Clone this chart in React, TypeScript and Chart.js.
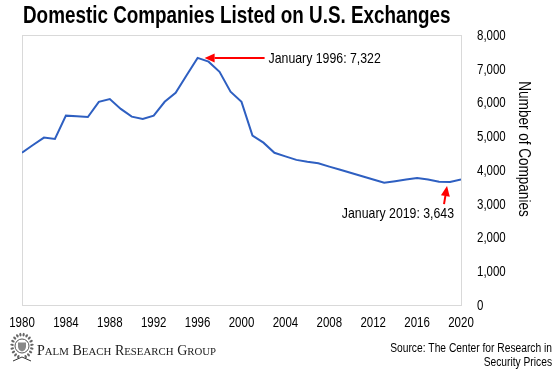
import { useEffect, useRef } from "react";
import { Chart, registerables } from "chart.js";

Chart.register(...registerables);

const TITLE = "Domestic Companies Listed on U.S. Exchanges";
const Y_TITLE = "Number of Companies";
const BRAND = "Palm Beach Research Group";
const SOURCE_LINES = ["Source: The Center for Research in", "Security Prices"];

const years = [
  1980, 1981, 1982, 1983, 1984, 1985, 1986, 1987, 1988, 1989,
  1990, 1991, 1992, 1993, 1994, 1995, 1996, 1997, 1998, 1999,
  2000, 2001, 2002, 2003, 2004, 2005, 2006, 2007, 2008, 2009,
  2010, 2011, 2012, 2013, 2014, 2015, 2016, 2017, 2018, 2019, 2020,
];
const companies = [
  4510, 4740, 4960, 4920, 5610, 5590, 5570, 6020, 6100, 5810,
  5580, 5510, 5610, 6020, 6290, 6810, 7322, 7210, 6910, 6320,
  6020, 5020, 4810, 4510, 4405, 4300, 4245, 4200, 4100, 4005,
  3910, 3815, 3720, 3620, 3670, 3720, 3760, 3720, 3650, 3643, 3720,
];
const xTicks = [1980, 1984, 1988, 1992, 1996, 2000, 2004, 2008, 2012, 2016, 2020];
const yTicks = [0, 1000, 2000, 3000, 4000, 5000, 6000, 7000, 8000];

const peakYear = 1996;
const peakValue = 7322;
const peakLabel = "January 1996: 7,322";
const lastYear = 2019;
const lastValue = 3643;
const lastLabel = "January 2019: 3,643";

const SANS = "'Liberation Sans', Arial, Helvetica, sans-serif";
const SERIF = "'Liberation Serif', 'Times New Roman', serif";
const NARROW_SCALE = 0.82;

function ntext(
  ctx: CanvasRenderingContext2D,
  text: string,
  x: number,
  y: number,
  size: number,
  align: CanvasTextAlign,
  baseline: CanvasTextBaseline,
  bold = false,
) {
  ctx.save();
  ctx.translate(x, y);
  ctx.scale(NARROW_SCALE, 1);
  ctx.font = `${bold ? "bold " : ""}${size}px ${SANS}`;
  ctx.textAlign = align;
  ctx.textBaseline = baseline;
  ctx.fillText(text, 0, 0);
  ctx.restore();
}

function arrow(ctx: CanvasRenderingContext2D, tx: number, ty: number, hx: number, hy: number) {
  const ang = Math.atan2(hy - ty, hx - tx);
  const headLen = 10;
  const headW = 4.5;
  const bx = hx - headLen * Math.cos(ang);
  const by = hy - headLen * Math.sin(ang);
  ctx.strokeStyle = "#ff0000";
  ctx.fillStyle = "#ff0000";
  ctx.lineWidth = 2;
  ctx.beginPath();
  ctx.moveTo(tx, ty);
  ctx.lineTo(bx, by);
  ctx.stroke();
  ctx.beginPath();
  ctx.moveTo(hx, hy);
  ctx.lineTo(bx + headW * Math.sin(ang), by - headW * Math.cos(ang));
  ctx.lineTo(bx - headW * Math.sin(ang), by + headW * Math.cos(ang));
  ctx.closePath();
  ctx.fill();
}

function drawLogo(ctx: CanvasRenderingContext2D, cx: number, cy: number) {
  ctx.save();
  ctx.fillStyle = "#666";
  for (let i = 0; i < 18; i++) {
    const a = Math.PI * 0.62 + (i / 17) * Math.PI * 1.76;
    ctx.beginPath();
    ctx.ellipse(cx + Math.cos(a) * 10, cy + Math.sin(a) * 11.5, 1.8, 1.1, a, 0, Math.PI * 2);
    ctx.fill();
  }
  ctx.strokeStyle = "#555";
  ctx.lineWidth = 1;
  ctx.beginPath();
  ctx.arc(cx, cy, 7, 0, Math.PI * 2);
  ctx.stroke();
  ctx.fillStyle = "#888";
  ctx.beginPath();
  ctx.moveTo(cx - 4, cy - 3.5);
  ctx.lineTo(cx + 4, cy - 3.5);
  ctx.lineTo(cx + 4, cy + 1);
  ctx.quadraticCurveTo(cx + 3.5, cy + 4.5, cx, cy + 5.5);
  ctx.quadraticCurveTo(cx - 3.5, cy + 4.5, cx - 4, cy + 1);
  ctx.closePath();
  ctx.fill();
  ctx.strokeStyle = "#333";
  ctx.beginPath();
  ctx.moveTo(cx - 9, cy + 15);
  ctx.lineTo(cx, cy + 11);
  ctx.lineTo(cx + 9, cy + 15);
  ctx.stroke();
  ctx.restore();
}

function drawSmallCaps(ctx: CanvasRenderingContext2D, text: string, x: number, y: number, big: number, small: number) {
  let cx = x;
  ctx.textAlign = "left";
  ctx.textBaseline = "alphabetic";
  const words = text.split(" ");
  words.forEach((w, wi) => {
    for (let i = 0; i < w.length; i++) {
      const ch = w[i];
      const isCap = ch === ch.toUpperCase();
      ctx.font = `${isCap ? big : small}px ${SERIF}`;
      const c = ch.toUpperCase();
      ctx.fillText(c, cx, y);
      cx += ctx.measureText(c).width;
    }
    if (wi < words.length - 1) {
      ctx.font = `${small}px ${SERIF}`;
      cx += ctx.measureText(" ").width + 1;
    }
  });
}

const decorPlugin = {
  id: "decor",
  beforeDatasetsDraw(chart: any) {
    const { ctx, chartArea: a } = chart;
    ctx.save();
    ctx.strokeStyle = "#d9d9d9";
    ctx.lineWidth = 1;
    ctx.strokeRect(Math.round(a.left) + 0.5, Math.round(a.top) + 0.5, Math.round(a.right - a.left), Math.round(a.bottom - a.top));
    ctx.restore();
  },
  afterDraw(chart: any) {
    const { ctx, scales, chartArea: a } = chart;
    const xs = scales.x;
    const ys = scales.y;
    ctx.save();
    ctx.fillStyle = "#000";

    // Title
    ntext(ctx, TITLE, 23, 23, 23, "left", "alphabetic", true);

    // X tick labels
    xTicks.forEach((v) => {
      ntext(ctx, String(v), xs.getPixelForValue(v), a.bottom + 18, 14, "center", "middle");
    });
    // Y tick labels
    yTicks.forEach((v) => {
      ntext(ctx, v.toLocaleString("en-US"), a.right + 16, ys.getPixelForValue(v) + 1, 14, "left", "middle");
    });

    // Y axis title
    ctx.save();
    ctx.translate(524, 149);
    ctx.rotate(Math.PI / 2);
    ntext(ctx, Y_TITLE, 0, 0, 16.5, "center", "middle");
    ctx.restore();

    // Peak annotation
    const px = xs.getPixelForValue(peakYear) + 7;
    const py = ys.getPixelForValue(peakValue);
    arrow(ctx, px + 60, py, px, py);
    ctx.fillStyle = "#000";
    ntext(ctx, peakLabel, px + 64, py + 1, 15, "left", "middle");

    // 2019 annotation
    const lx = xs.getPixelForValue(lastYear) - 3;
    const ly = ys.getPixelForValue(lastValue) + 4;
    arrow(ctx, lx - 3, ly + 18, lx, ly);
    ctx.fillStyle = "#000";
    ntext(ctx, lastLabel, lx + 7, ly + 28, 15, "right", "middle");

    // Footer
    drawLogo(ctx, 22, 346);
    ctx.fillStyle = "#222";
    drawSmallCaps(ctx, BRAND, 37, 355, 14, 10.8);

    ctx.fillStyle = "#000";
    ntext(ctx, SOURCE_LINES[0], 552, 352, 12.5, "right", "alphabetic");
    ntext(ctx, SOURCE_LINES[1], 552, 366, 12.5, "right", "alphabetic");
    ctx.restore();
  },
};

export default function App() {
  const ref = useRef<HTMLCanvasElement | null>(null);
  useEffect(() => {
    if (!ref.current) return;
    const chart = new Chart(ref.current, {
      type: "line",
      data: {
        datasets: [
          {
            data: years.map((y, i) => ({ x: y, y: companies[i] })),
            borderColor: "#2e5fc1",
            borderWidth: 2,
            pointRadius: 0,
            tension: 0,
            fill: false,
          },
        ],
      },
      options: {
        responsive: false,
        animation: false,
        events: [],
        layout: { padding: { top: 35, left: 22, right: 24, bottom: 74 } },
        plugins: { legend: { display: false }, tooltip: { enabled: false }, title: { display: false } },
        scales: {
          x: {
            type: "linear",
            min: 1980,
            max: 2020,
            afterBuildTicks: (s: any) => {
              s.ticks = xTicks.map((v) => ({ value: v }));
            },
            grid: { display: false, drawTicks: false },
            border: { display: false },
            ticks: { display: false },
          },
          y: {
            position: "right",
            min: 0,
            max: 8000,
            afterBuildTicks: (s: any) => {
              s.ticks = yTicks.map((v) => ({ value: v }));
            },
            afterFit: (s: any) => {
              s.width = 75;
            },
            grid: { display: false, drawTicks: false },
            border: { display: false },
            ticks: { display: false },
          },
        },
      },
      plugins: [decorPlugin],
    });
    return () => chart.destroy();
  }, []);
  return (
    <div style={{ position: "absolute", left: 0, top: 0, width: 560, height: 379, background: "#fff" }}>
      <canvas ref={ref} width={560} height={379} style={{ display: "block" }} />
    </div>
  );
}
